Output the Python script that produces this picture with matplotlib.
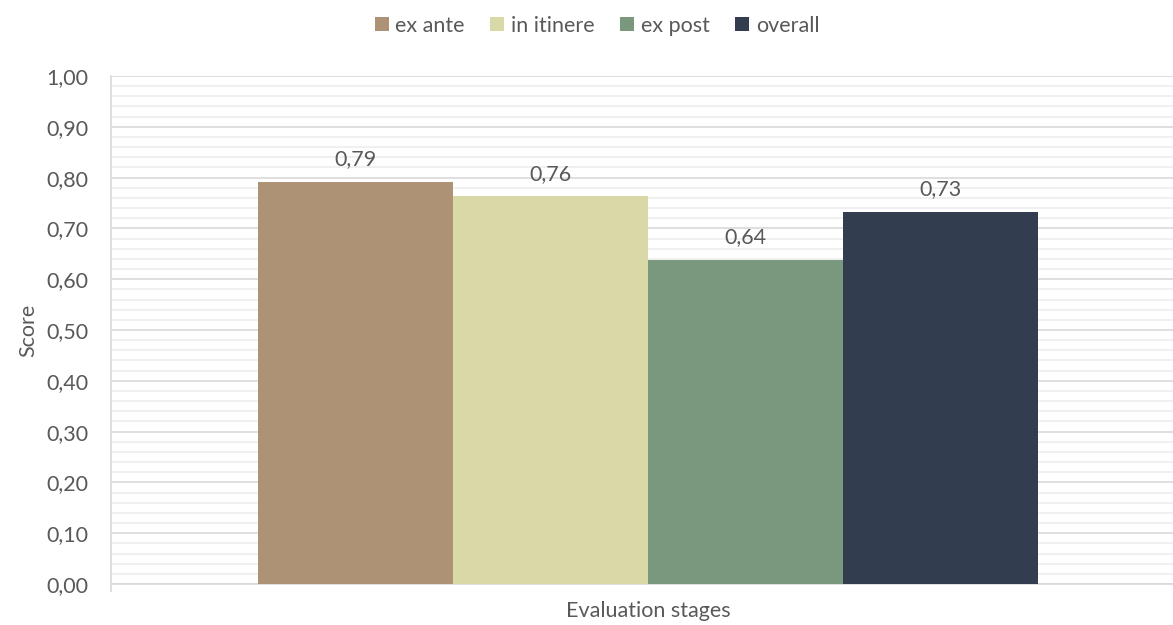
import matplotlib.pyplot as plt
from matplotlib.patches import Patch
from matplotlib.ticker import MultipleLocator

# data
series = ['ex ante', 'in itinere', 'ex post', 'overall']
scores = [0.792, 0.763, 0.638, 0.732]
colors = ['#AE9275', '#D8D9A6', '#7A987E', '#323E50']
category = 'Evaluation stages'

plt.rcParams['font.family'] = ['Lato', 'DejaVu Sans']
txt = '#595959'
fs = 15.5

fig = plt.figure(figsize=(11.73, 6.25), dpi=100)
# axes runs past the right edge like the excel plot area
ax = fig.add_axes([111 / 1173, 41 / 625, 1074 / 1173, 508 / 625])

w = 0.1816
offsets = [(i - 1.5) * w for i in range(len(series))]
for off, val, col in zip(offsets, scores, colors):
    ax.bar(off, val, width=w, color=col, zorder=3)
    ax.text(off, val + 0.025, f'{val:.2f}'.replace('.', ','), ha='center', va='bottom',
            fontsize=fs, color=txt)

ax.set_xlim(-0.5, 0.5)
ax.set_ylim(0, 1.0)
ax.yaxis.set_major_locator(MultipleLocator(0.1))
ax.yaxis.set_minor_locator(MultipleLocator(0.02))
ax.set_yticklabels([f'{v:.2f}'.replace('.', ',') for v in ax.get_yticks()])
ax.grid(which='major', axis='y', color='#d9d9d9', lw=1.2, zorder=1)
ax.grid(which='minor', axis='y', color='#f0f0f0', lw=1.4, zorder=0)
ax.tick_params(axis='y', which='both', length=0, pad=16, labelsize=fs, labelcolor=txt)
ax.set_xticks([-0.5])
ax.set_xticklabels([''])
ax.tick_params(axis='x', length=6, width=1.2, color='#d9d9d9')

for s in ['top', 'right']:
    ax.spines[s].set_visible(False)
ax.spines['left'].set_color('#d9d9d9')
ax.spines['bottom'].set_color('#d9d9d9')
ax.spines['left'].set_linewidth(1.2)
ax.spines['bottom'].set_linewidth(1.2)

ax.set_ylabel('Score', fontsize=fs, color=txt, labelpad=6)
ax.set_xlabel(category, fontsize=fs, color=txt, labelpad=3)

handles = [Patch(facecolor=c) for c in colors]
fig.legend(handles, series, loc='upper center', bbox_to_anchor=(597 / 1173, 1.006), ncol=4,
           frameon=False, fontsize=fs, labelcolor=txt, handlelength=0.65, handleheight=0.65,
           handletextpad=0.3, columnspacing=1.2)

plt.savefig('out.png', dpi=100)
